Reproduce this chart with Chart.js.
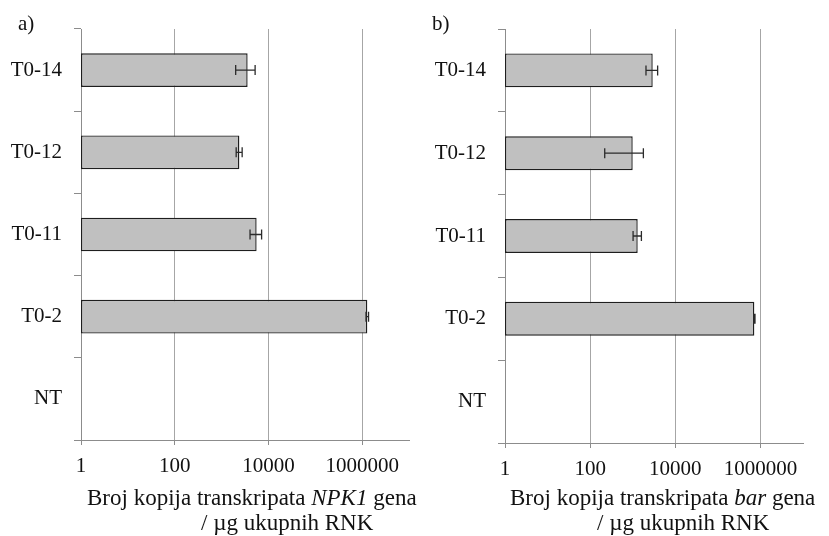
<!DOCTYPE html>
<html>
<head>
<meta charset="utf-8">
<script src="https://cdn.jsdelivr.net/npm/chart.js@4.4.1/dist/chart.umd.min.js"></script>
<style>
  html, body { margin: 0; padding: 0; background: #fff; }
  body {
    width: 829px; height: 536px; position: relative; overflow: hidden;
    font-family: "Liberation Serif", "Times New Roman", serif; color: #111;
  }
  .panel { position: absolute; top: 0; height: 536px; }
  #panelA { left: 0; width: 420px; }
  #panelB { left: 420px; width: 409px; }
  .letter { position: absolute; font-size: 21px; line-height: 26px; }
  .axis-title { position: absolute; font-size: 23px; line-height: 26px; white-space: nowrap; }
</style>
</head>
<body>
<div class="panel" id="panelA"><canvas id="chartA"></canvas></div>
<div class="panel" id="panelB"><canvas id="chartB"></canvas></div>
<div class="letter" style="left:18px; top:10px">a)</div>
<div class="letter" style="left:432px; top:10px">b)</div>
<div class="axis-title" style="left:87px; top:485px">Broj kopija transkripata <i>NPK1</i> gena</div>
<div class="axis-title" style="left:201px; top:510px">/ µg ukupnih RNK</div>
<div class="axis-title" style="left:510px; top:485px">Broj kopija transkripata <i>bar</i> gena</div>
<div class="axis-title" style="left:597px; top:510px">/ µg ukupnih RNK</div>

<script>
const categories = ["T0-14", "T0-12", "T0-11", "T0-2", "NT"];

// a) NPK1 transcripts, mean and error
const npk1Copies = [3600, 2400, 5600, 1290000, null];
const npk1Errors = [1600, 350, 1550, 80000, null];

// b) bar transcripts, mean and error
const barCopies = [2950, 1000, 1310, 720000, null];
const barErrors = [900, 780, 290, 25000, null];

const xTickValues = [1, 100, 10000, 1000000];
const xMin = 1;
const xMax = 10000000;

const tickFont = { family: "'Liberation Serif', 'Times New Roman', serif", size: 21 };

// draws the error bars on top of the bars
const errorBarPlugin = {
  id: "errorBars",
  afterDatasetsDraw(chart) {
    const ctx = chart.ctx;
    const xScale = chart.scales.x;
    chart.data.datasets.forEach((ds, di) => {
      const meta = chart.getDatasetMeta(di);
      meta.data.forEach((bar, i) => {
        const v = ds.data[i];
        const e = ds.errors[i];
        if (v == null || e == null) return;
        const x1 = xScale.getPixelForValue(Math.max(v - e, xMin));
        const x2 = xScale.getPixelForValue(v + e);
        const y = bar.y;
        const cap = 5;
        ctx.save();
        ctx.strokeStyle = "#2b2b2b";
        ctx.lineWidth = 1.3;
        ctx.beginPath();
        ctx.moveTo(x1, y);
        ctx.lineTo(x2, y);
        ctx.moveTo(x1, y - cap);
        ctx.lineTo(x1, y + cap);
        ctx.moveTo(x2, y - cap);
        ctx.lineTo(x2, y + cap);
        ctx.stroke();
        ctx.restore();
      });
    });
  },
};

function makeChart(canvasId, values, errors, geom) {
  const ctx = document.getElementById(canvasId).getContext("2d");
  return new Chart(ctx, {
    type: "bar",
    data: {
      labels: categories,
      datasets: [
        {
          data: values,
          errors: errors,
          backgroundColor: "#c0c0c0",
          borderColor: "#1e1e1e",
          borderWidth: 1.4,
          borderSkipped: false,
          categoryPercentage: 1,
          barPercentage: 0.41,
        },
      ],
    },
    options: {
      indexAxis: "y",
      responsive: true,
      maintainAspectRatio: false,
      animation: false,
      layout: { padding: { top: 29, right: geom.padRight, left: 0, bottom: 0 } },
      plugins: { legend: { display: false }, tooltip: { enabled: false } },
      scales: {
        x: {
          type: "logarithmic",
          min: xMin,
          max: xMax,
          afterBuildTicks: (scale) => {
            scale.ticks = xTickValues.map((v) => ({ value: v }));
          },
          afterFit: (scale) => {
            scale.height = geom.xHeight;
          },
          ticks: {
            callback: (v) => String(v),
            font: tickFont,
            color: "#111",
            padding: 9,
            maxRotation: 0,
            autoSkip: false,
          },
          grid: { color: "#a6a6a6", tickColor: "#8c8c8c", tickLength: 5 },
          border: { display: true, color: "#8c8c8c" },
        },
        y: {
          afterFit: (scale) => {
            scale.width = geom.yWidth;
          },
          ticks: { font: tickFont, color: "#111", padding: 12 },
          grid: { drawOnChartArea: false, tickLength: 7, color: "#8c8c8c", offset: true },
          border: { display: true, color: "#8c8c8c" },
        },
      },
    },
    plugins: [errorBarPlugin],
  });
}

makeChart("chartA", npk1Copies, npk1Errors, { yWidth: 81, padRight: 11, xHeight: 96 });
makeChart("chartB", barCopies, barErrors, { yWidth: 85, padRight: 26, xHeight: 93 });
</script>
</body>
</html>
